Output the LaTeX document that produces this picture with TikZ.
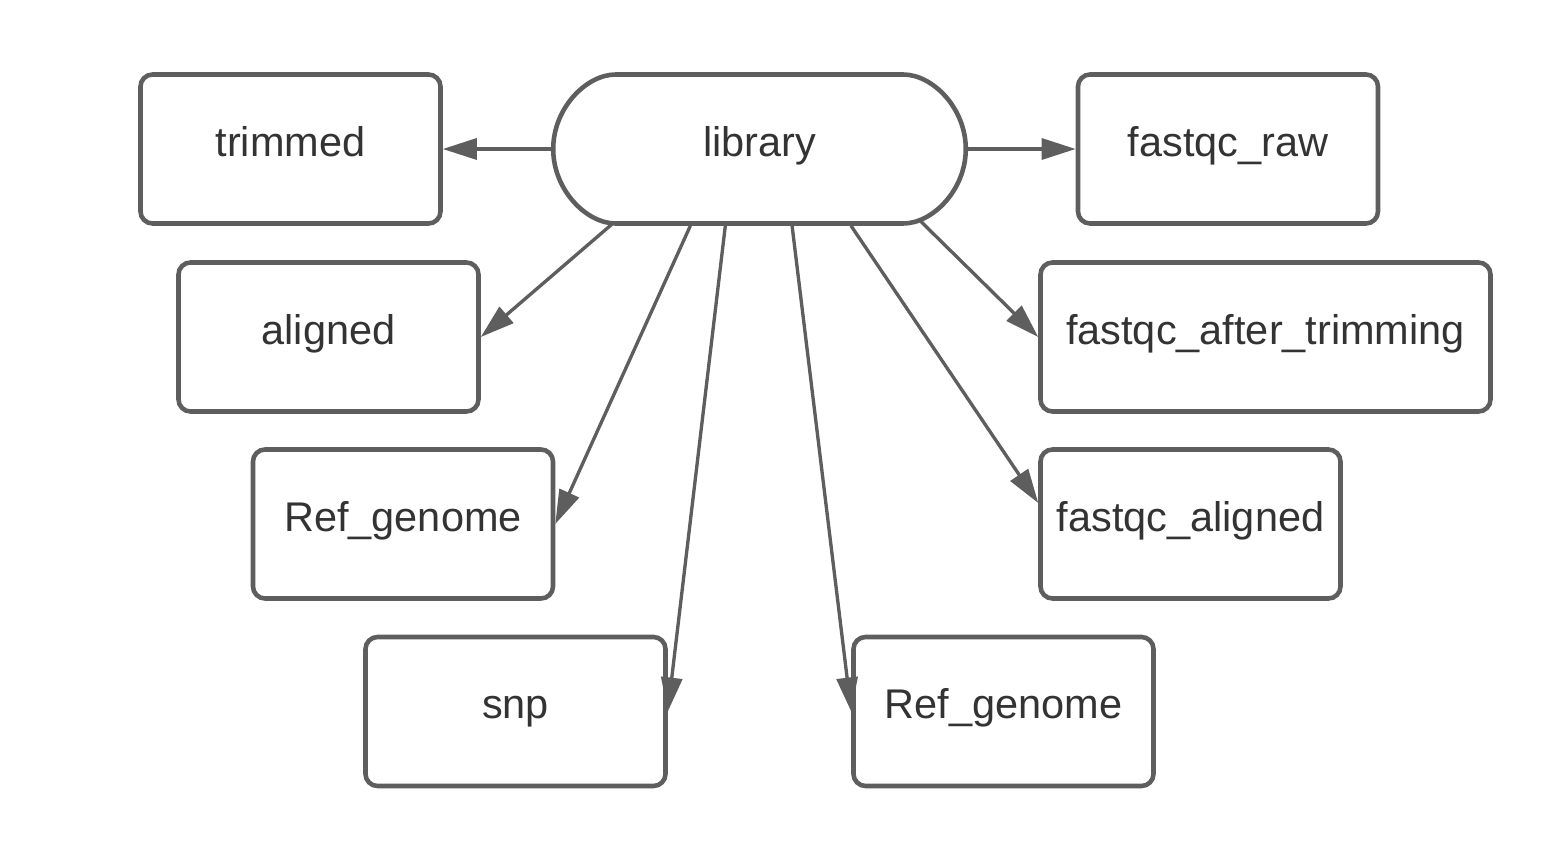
\documentclass[tikz,border=0pt]{standalone}
\usepackage{fontspec}
\setmainfont{Liberation Sans}
\usetikzlibrary{arrows.meta,shapes.misc,calc}
\definecolor{boxgray}{HTML}{5E5E5E}
\definecolor{textgray}{HTML}{333333}
\begin{document}
\begin{tikzpicture}[
				% boxes and arrows of the pipeline
				outbox/.style={draw=boxgray, line width=1.3pt, rounded corners=0.12cm, fill=white,
					minimum width=\BoxWidth cm, minimum height=\BoxHeight cm,
					text=textgray, font=\fontsize{11.8}{14}\selectfont, text height=0.7em, text depth=0.3em},
				libbox/.style={outbox, rounded rectangle, minimum width=4.36cm},
				flow/.style={draw=boxgray, line width=0.95pt, -{Triangle[length=0.34cm, width=0.21cm]}}
				]
				\pgfmathsetmacro{\BoxWidth}{3.0}
				\pgfmathsetmacro{\BoxHeight}{1.49}
				\useasboundingbox (0,0) rectangle (15.66,-8.63);
				\node[libbox] (library) at (7.595,-1.49) {library};
				\node[outbox] (trimmed) at (2.905,-1.49) {trimmed};
				\node[outbox] (fastqcraw) at (12.28,-1.49) {fastqc\_raw};
				\node[outbox] (aligned) at (3.285,-3.37) {aligned};
				\node[outbox, minimum width=4.5cm] (fastqcafter) at (12.655,-3.37) {fastqc\_after\_trimming};
				\node[outbox] (refgenomeleft) at (4.03,-5.24) {Ref\_genome};
				\node[outbox] (fastqcaligned) at (11.905,-5.24) {fastqc\_aligned};
				\node[outbox] (snp) at (5.155,-7.115) {snp};
				\node[outbox] (refgenomeright) at (10.035,-7.115) {Ref\_genome};
				\coordinate (FastqcAlignedIn) at ($(fastqcaligned.west)+(0,0.21)$);
				\draw[flow] (library.west) -- (trimmed.east);
				\draw[flow] (library.east) -- (fastqcraw.west);
				\draw[flow] (library.207.4) -- (aligned.east);
				\draw[flow] (library.228.3) -- (refgenomeleft.east);
				\draw[flow] (library.246.5) -- (snp.east);
				\draw[flow] (library.293.5) -- (refgenomeright.west);
				\draw[flow] (library.320.2) -- (FastqcAlignedIn);
				\draw[flow] (library.336.5) -- (fastqcafter.west);
			\end{tikzpicture}
\end{document}
